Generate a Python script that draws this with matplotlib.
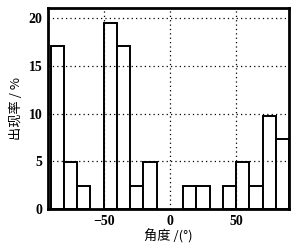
import matplotlib
matplotlib.use("Agg")
import matplotlib.pyplot as plt

bin_left = [-90, -80, -70, -60, -50, -40, -30, -20, -10, 0, 10, 20, 30, 40, 50, 60, 70, 80]
rate = [17.07, 4.88, 2.44, 0, 19.51, 17.07, 2.44, 4.88, 0, 0, 2.44, 2.44, 0, 2.44, 4.88, 2.44, 9.76, 7.32]
xticks = [-50, 0, 50]
yticks = [0, 5, 10, 15, 20]

fig = plt.figure(figsize=(2.98, 2.47), dpi=100)
ax = fig.add_axes([0.161, 0.154, 0.809, 0.814])

for y in yticks[1:]:
    ax.axhline(y, color="black", linestyle=(0, (1, 2.5)), linewidth=0.9, zorder=3)
for x in xticks:
    ax.axvline(x, color="black", linestyle=(0, (1, 2.5)), linewidth=0.9, zorder=3)

xs = [b for b, r in zip(bin_left, rate) if r > 0]
hs = [r for r in rate if r > 0]
ax.bar(xs, hs, width=10, align="edge", facecolor="white", edgecolor="black", linewidth=1.4, zorder=2)

ax.set_xlim(-92, 90)
ax.set_ylim(0, 21.1)
ax.set_xticks(xticks)
ax.set_xticklabels(["\u221250", "0", "50"])
ax.set_yticks(yticks)
for s in ax.spines.values():
    s.set_linewidth(2)
ax.tick_params(length=0, pad=4, labelsize=10)
for lab in ax.get_xticklabels() + ax.get_yticklabels():
    lab.set_fontfamily("Liberation Serif")
    lab.set_fontweight("bold")

ax.set_ylabel("出现率 / %", fontfamily=["Noto Sans CJK SC", "DejaVu Sans"], fontsize=9.5, labelpad=4)
ax.set_xlabel("角度 /(°)", fontfamily=["Noto Sans CJK SC", "DejaVu Sans"], fontsize=9.5, labelpad=1)

fig.savefig("out.png", dpi=100)
